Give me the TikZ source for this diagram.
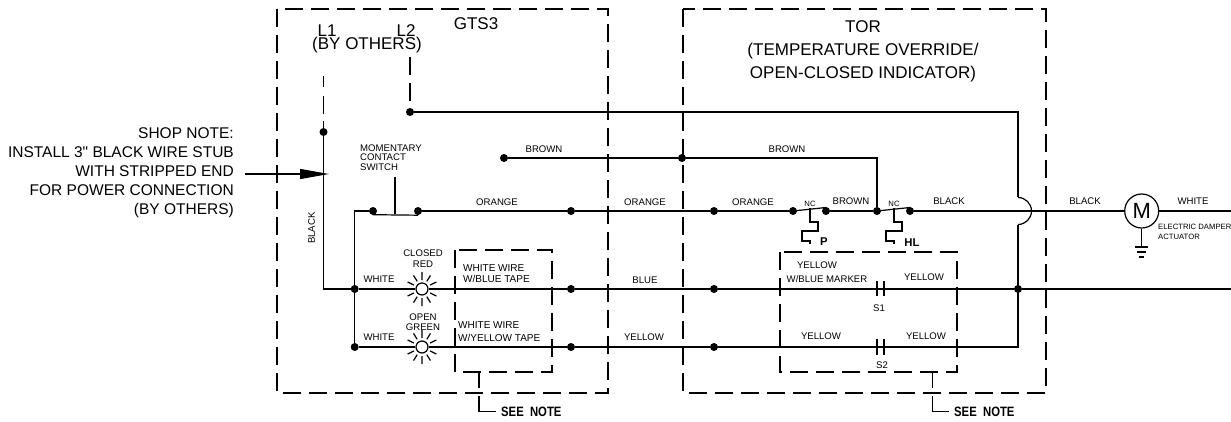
\documentclass[tikz,border=0pt]{standalone}
\usepackage{fontspec}
\setmainfont{Liberation Sans}
\newfontfamily\rawfont{Liberation Sans}
\usetikzlibrary{arrows.meta}
\tikzset{
    wire/.style={line width=1.2pt},
    boxline/.style={line width=1.2pt, dash pattern=on 18pt off 8pt},
    dot/.style={circle, fill=black, inner sep=0pt, minimum size=8pt},
    lbl/.style={inner sep=0pt, font=\fontsize{9.6}{9.5}\selectfont},
    tape/.style={inner sep=0pt, font=\fontsize{10}{10}\selectfont},
    big/.style={inner sep=0pt, font=\fontsize{15.5}{19}\selectfont},
    huge/.style={inner sep=0pt, font=\fontsize{17}{23}\selectfont},
    tiny/.style={inner sep=0pt, font=\fontsize{7.7}{9.6}\selectfont},
    stroke/.style={inner sep=0pt, font=\fontsize{11.3}{13}\bfseries\selectfont},
    lamp/.style={circle, draw, fill=white, line width=1.2pt, inner sep=0pt, minimum size=12pt},
    rays/.pic={\draw[line width=1.2pt]
        (90:9) -- (90:17) (-90:9) -- (-90:17)
        (58:9) -- (58:16) (-58:9) -- (-58:16)
        (122:9) -- (122:16) (-122:9) -- (-122:16)
        (26:9) -- (26:16) (-26:9) -- (-26:16)
        (154:9) -- (154:16) (-154:9) -- (-154:16);}
}
\begin{document}
\begin{tikzpicture}[x=1pt, y=-1pt]
    \useasboundingbox (0, 0) rectangle (1231, 422);

    % dashed enclosures
    \draw[boxline] (277, 9) rectangle (608, 393);
    \draw[boxline] (683, 9) rectangle (1046, 393);
    \draw[boxline] (455, 250) rectangle (552, 372);
    \draw[boxline] (780, 252) rectangle (957, 372);

    % junctions
    \node[dot] (l1) at (323.5, 132) {};
    \node[dot] (l2) at (410, 112) {};
    \node[dot] (b1) at (504, 158) {};
    \node[dot] (b2) at (682, 158) {};
    \node[dot] (s1) at (373, 211) {};
    \node[dot] (s2) at (418, 211) {};
    \node[dot] (o1) at (571, 211) {};
    \node[dot] (o2) at (714, 211) {};
    \node[dot] (p1) at (793, 211) {};
    \node[dot] (p2) at (826, 211) {};
    \node[dot] (h1) at (877, 211) {};
    \node[dot] (h2) at (910, 211) {};
    \node[dot] (w1) at (354.7, 289) {};
    \node[dot] (w2) at (354.7, 347) {};
    \node[dot] (u1) at (571, 289) {};
    \node[dot] (u2) at (714, 289) {};
    \node[dot] (y1) at (571, 347) {};
    \node[dot] (y2) at (714, 347) {};
    \node[dot] (r) at (1018, 289) {};

    % free ends and corners
    \coordinate (l1top) at (323.5, 76);
    \coordinate (l2top) at (410, 57);
    \coordinate (corner) at (323.5, 289);
    \coordinate (stub) at (354.7, 211);
    \coordinate (top) at (1018, 112);
    \coordinate (jumpa) at (1018, 197.5);
    \coordinate (jumpb) at (1018, 224.5);
    \coordinate (low) at (1018, 347);
    \coordinate (brownc) at (877, 158);
    \coordinate (endb) at (1231, 211);
    \coordinate (endw) at (1231, 289);
    \coordinate (arrowa) at (245, 174);
    \coordinate (arrowb) at (329, 174);
    \coordinate (swa) at (395, 177);
    \coordinate (swb) at (395, 214);

    % lamps, motor
    \node[lamp] (red) at (422, 289) {};
    \node[lamp] (green) at (422, 347) {};
    \pic at (red) {rays};
    \pic at (green) {rays};
    \node[circle, draw, line width=1.2pt, inner sep=0pt, minimum size=34pt, font=\fontsize{22}{22}\selectfont] (m) at (1141.7, 211) {M};

    % wires
    \draw[wire, dash pattern=on 11pt off 9pt on 18pt off 7pt on 18pt off 3pt] (l1top) to (l1);
    \draw[wire, dash pattern=on 18pt off 8pt] (l2top) to (l2);
    \draw[wire] (l1) to (corner) to (w1)
        (w1) to (red)
        (red) to (u1)
        (u1) to (u2)
        (u2) to (r)
        (r) to (endw)
        (w1) to (w2)
        (w2) to (green)
        (green) to (y1)
        (y1) to (y2)
        (l2) to (top) to (jumpa)
        (jumpb) to (low) to (y2)
        (b1) to (b2)
        (b2) to (brownc) to (h1)
        (w1) to (stub) to (s1)
        (s2) to (o1)
        (o1) to (o2)
        (o2) to (p1)
        (p2) to (h1)
        (h2) to (m)
        (m) to (endb)
        (swa) to (swb);
    \draw[wire] (jumpa) arc (-90:90:13.5);
    \draw[wire] (s1.south) ++(0, -0.5) to (s2.south);
    \draw[wire] (p1) to ++(33, -3.5)
        (h1) to ++(33, -3.5);
    \draw[wire, -{Triangle[length=29pt, width=10pt]}] (arrowa) to (arrowb);

    % thermal elements
    \draw[wire] (810, 208) -- ++(0, 14) -- ++(8, 0) -- ++(0, 9) -- ++(-16, 0) -- ++(0, 10) -- ++(8, 0) -- ++(0, 3);
    \draw[wire] (894, 208) -- ++(0, 14) -- ++(8, 0) -- ++(0, 9) -- ++(-16, 0) -- ++(0, 10) -- ++(8, 0) -- ++(0, 3);

    % contacts
    \draw[wire] (877, 281) -- (877, 296) (884, 281) -- (884, 296)
        (877, 339) -- (877, 355) (884, 339) -- (884, 355);

    % ground
    \coordinate (g) at (1141.7, 247);
    \draw[wire] (m) to (g);
    \draw[wire] (1135, 247) -- (1148, 247)
        (1137, 252) -- (1146, 252)
        (1139, 257) -- (1144, 257);

    % see note leaders
    \node[stroke, anchor=west] (n1) at (501, 412) {\scalebox{1}[1.2]{SEE~~NOTE}};
    \node[stroke, anchor=west] (n2) at (954, 412) {\scalebox{1}[1.2]{SEE~~NOTE}};
    \coordinate (na) at (479, 372);
    \coordinate (nb) at (479, 388);
    \coordinate (nc) at (479, 396);
    \coordinate (nd) at (479, 411.7);
    \coordinate (ne) at (496, 411.7);
    \coordinate (nf) at (932.7, 372);
    \coordinate (ng) at (932.7, 388);
    \coordinate (nh) at (932.7, 396);
    \coordinate (ni) at (932.7, 411.7);
    \coordinate (nj) at (949, 411.7);
    \draw[wire] (na) to (nb)
        (nc) to (nd) to (ne)
        (nf) to (ng)
        (nh) to (ni) to (nj);

    % texts
    \node[huge] (t1) at (476, 24) {GTS3};
    \node[huge] (t2) at (327, 31) {L1};
    \node[huge] (t3) at (406, 31) {L2};
    \node[huge] (t4) at (367, 45) {(BY OTHERS)};
    \node[huge, align=center] (t5) at (863, 51) {TOR\\(TEMPERATURE OVERRIDE/\\OPEN-CLOSED INDICATOR)};
    \node[big, align=right, anchor=east] (t6) at (234, 173) {SHOP NOTE:\\INSTALL 3{\rawfont"} BLACK WIRE STUB\\WITH STRIPPED END\\FOR POWER CONNECTION\\(BY OTHERS)};
    \node[lbl, align=left, anchor=west] (t7) at (360, 157.5) {MOMENTARY\\CONTACT\\SWITCH};
    \node[lbl, rotate=90] (t8) at (311.5, 228) {BLACK};
    \node[lbl] at (544, 149) {BROWN};
    \node[lbl] at (787, 149) {BROWN};
    \node[lbl] at (497, 202) {ORANGE};
    \node[lbl] at (645, 202) {ORANGE};
    \node[lbl] at (753, 202) {ORANGE};
    \node[lbl] at (851, 201.5) {BROWN};
    \node[lbl] at (949, 201.5) {BLACK};
    \node[lbl] at (1085, 201) {BLACK};
    \node[lbl] at (1193, 201) {WHITE};
    \node[lbl] at (379, 279) {WHITE};
    \node[lbl] at (379, 337) {WHITE};
    \node[lbl] at (423, 253) {CLOSED};
    \node[lbl] at (423, 264) {RED};
    \node[lbl] at (423, 317) {OPEN};
    \node[lbl] at (423, 327) {GREEN};
    \node[tape, anchor=west] at (463, 268) {WHITE WIRE};
    \node[tape, anchor=west] at (463, 279) {W/BLUE TAPE};
    \node[tape, anchor=west] at (458, 325) {WHITE WIRE};
    \node[tape, anchor=west] at (458, 337.5) {W/YELLOW TAPE};
    \node[lbl] at (645, 280) {BLUE};
    \node[lbl] at (644, 337) {YELLOW};
    \node[lbl] at (817, 265) {YELLOW};
    \node[lbl] at (827, 279) {W/BLUE MARKER};
    \node[lbl] at (924, 277.5) {YELLOW};
    \node[lbl] at (821, 336) {YELLOW};
    \node[lbl] at (926, 336) {YELLOW};
    \node[lbl] at (879, 308) {S1};
    \node[lbl] at (882, 365.5) {S2};
    \node[tiny] at (810, 204) {NC};
    \node[tiny] at (894, 204) {NC};
    \node[stroke] at (824, 242) {P};
    \node[stroke] at (912, 243) {HL};
    \node[tiny, align=left, anchor=west] at (1158, 232) {ELECTRIC DAMPER\\ACTUATOR};
\end{tikzpicture}
\end{document}
